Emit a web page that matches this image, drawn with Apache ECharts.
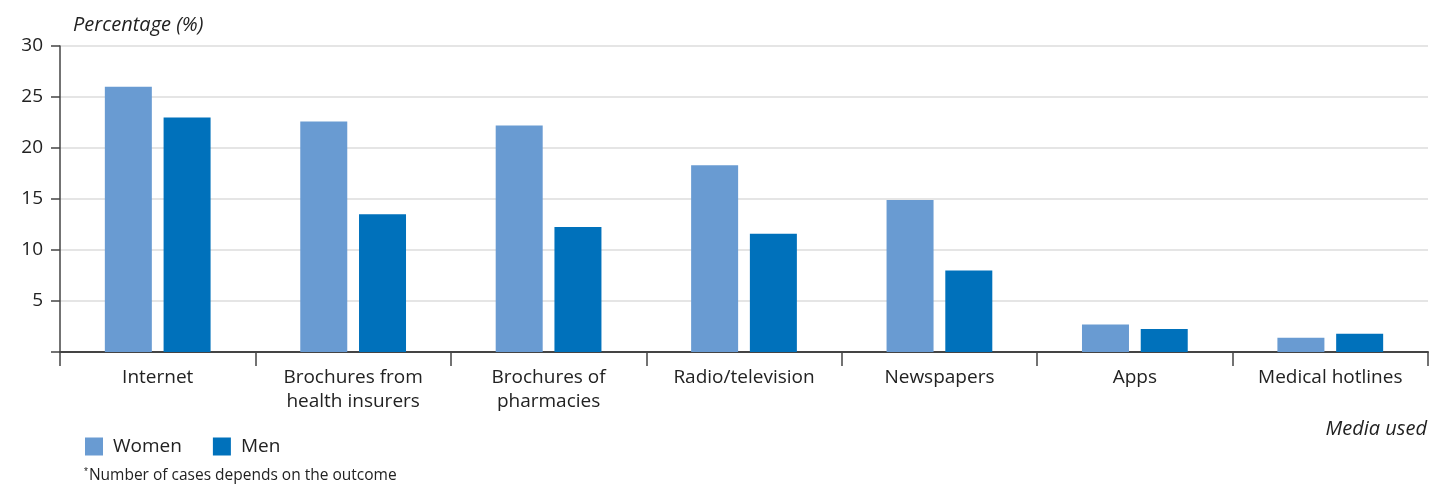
<!DOCTYPE html>
<html><head><meta charset="utf-8">
<script src="https://cdn.jsdelivr.net/npm/echarts@6/dist/echarts.min.js"></script>
<style>html,body{margin:0;padding:0;background:#fff}#c{width:1445px;height:485px}</style>
</head><body><div id="c"></div>
<script>
const categories = ["Internet", "Brochures from\nhealth insurers", "Brochures of\npharmacies", "Radio/television", "Newspapers", "Apps", "Medical hotlines"];
const women = [26.0, 22.6, 22.2, 18.3, 14.9, 2.7, 1.4];
const men = [23.0, 13.5, 12.25, 11.6, 8.0, 2.25, 1.8];
const yTicks = { min: 0, max: 30, interval: 5 };
const FONT = "'Open Sans', 'Noto Sans', sans-serif";
const chart = echarts.init(document.getElementById('c'), null, { renderer: 'canvas' });
chart.setOption({
  animation: false,
  textStyle: { fontFamily: FONT },
  grid: { left: 60, right: 17, top: 46, bottom: 133 },
  legend: {
    left: 85, top: 437, padding: 0, itemWidth: 18, itemHeight: 18, itemGap: 31,
    icon: 'rect',
    textStyle: { fontSize: 19, color: '#222', fontFamily: FONT, padding: [0, 0, 0, 5] },
    data: ['Women', 'Men']
  },
  xAxis: {
    type: 'category', data: categories,
    axisLine: { lineStyle: { color: '#444', width: 2 } },
    axisTick: { show: true, length: 14, lineStyle: { color: '#444', width: 1.5 } },
    axisLabel: { fontSize: 19, color: '#222', margin: 14, lineHeight: 24, fontFamily: FONT, interval: 0 },
    name: 'Media used', nameLocation: 'end',
    nameTextStyle: { fontStyle: 'italic', fontSize: 20, color: '#222', align: 'right', verticalAlign: 'top', padding: [67, 0, 0, 0] },
    nameGap: -1
  },
  yAxis: {
    type: 'value', min: yTicks.min, max: yTicks.max, interval: yTicks.interval,
    name: 'Percentage (%)', nameLocation: 'end', nameGap: 11,
    nameTextStyle: { fontStyle: 'italic', fontSize: 20, color: '#222', align: 'left', padding: [0, 0, 0, 13] },
    axisLine: { show: true, lineStyle: { color: '#444', width: 1.5 } },
    axisTick: { show: true, length: 9, lineStyle: { color: '#444', width: 1.5 } },
    axisLabel: { fontSize: 19, color: '#222', margin: 17, fontFamily: FONT,
      formatter: v => v === 0 ? '' : String(v) },
    splitLine: { lineStyle: { color: '#dcdcdc', width: 1.5 } }
  },
  series: [
    { name: 'Women', type: 'bar', data: women, barWidth: 47, barGap: '25%', itemStyle: { color: '#699bd2' } },
    { name: 'Men', type: 'bar', data: men, barWidth: 47, itemStyle: { color: '#0071bb' } }
  ],
  graphic: [{
    type: 'text', left: 84, top: 467,
    style: { text: '{s|*}Number of cases depends on the outcome', fill: '#222', font: '15.5px ' + FONT,
      rich: { s: { fontSize: 10, verticalAlign: 'top', padding: [0, 1, 8, 0] } } }
  }]
});
</script></body></html>
